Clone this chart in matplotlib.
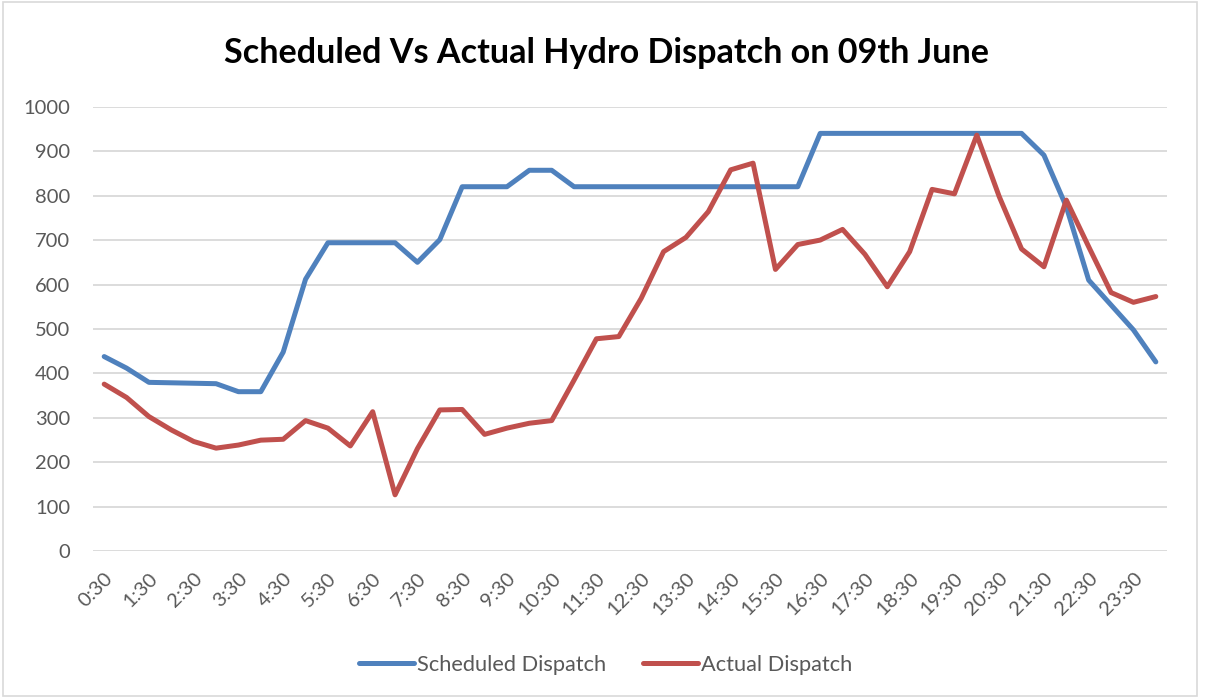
import matplotlib
matplotlib.use("Agg")
import matplotlib.pyplot as plt
from matplotlib.patches import Rectangle

# half-hourly time blocks 0:30 ... 24:00
times = []
for h in range(0, 25):
    for m in ("00", "30"):
        if h == 0 and m == "00":
            continue
        if h == 24 and m == "30":
            continue
        times.append(f"{h}:{m}")

scheduled = [438, 412, 380, 379, 378, 377, 359, 359, 448, 612,
             694, 694, 694, 694, 650, 701, 820, 820, 820, 857,
             857, 820, 820, 820, 820, 820, 820, 820, 820, 820,
             820, 820, 940, 940, 940, 940, 940, 940, 940, 940,
             940, 940, 891, 775, 610, 554, 498, 426]

actual = [376, 346, 303, 273, 247, 232, 239, 250, 252, 294,
          277, 237, 314, 127, 231, 318, 319, 263, 277, 288,
          294, 385, 478, 483, 569, 674, 706, 764, 858, 873,
          634, 690, 700, 724, 668, 595, 674, 814, 804, 936,
          798, 680, 640, 790, 685, 582, 560, 573]

title = "Scheduled Vs Actual Hydro Dispatch on 09th June"
yticks = list(range(0, 1001, 100))

plt.rcParams['font.family'] = ['Lato', 'DejaVu Sans']

fig = plt.figure(figsize=(12.07, 6.97), dpi=100)
ax = fig.add_axes([93/1207, 1-551.3/697, (1167-93)/1207, (551.3-106.7)/697])

x = list(range(len(times)))
ax.plot(x, scheduled, color="#4F81BD", lw=3.6, solid_capstyle="round",
        solid_joinstyle="round", label="Scheduled Dispatch", zorder=3)
ax.plot(x, actual, color="#C0504D", lw=3.6, solid_capstyle="round",
        solid_joinstyle="round", label="Actual Dispatch", zorder=3)

ax.set_xlim(-0.5, len(times) - 0.5)
ax.set_ylim(0, 1000)
ax.set_yticks(yticks)
ax.set_yticklabels([str(v) for v in yticks])
ax.set_xticks(x[::2])
ax.set_xticklabels(times[::2], rotation=45, ha="right", va="top",
                   rotation_mode="anchor")
ax.tick_params(axis="both", length=0, labelsize=14.5, colors="#595959")
ax.tick_params(axis="x", pad=13)
ax.tick_params(axis="y", pad=16.5)
ax.grid(axis="y", color="#D9D9D9", lw=1.3)
ax.set_axisbelow(True)
for s in ax.spines.values():
    s.set_visible(False)

fig.text(0.5025, 1 - 53/697, title, ha="center", va="center",
         fontsize=24.6, fontweight="bold", color="black")

leg = fig.legend(loc="center", bbox_to_anchor=(606/1207, 1 - 665/697), ncol=2,
                 frameon=False, fontsize=15.7, handlelength=2.5,
                 columnspacing=1.7, handletextpad=0.15)
for t in leg.get_texts():
    t.set_color("#595959")

fig.patches.append(Rectangle((3/1207, 1/697), 1194/1207, 694/697,
                             transform=fig.transFigure, fill=False,
                             edgecolor="#D9D9D9", lw=1.2))

fig.savefig("out.png", dpi=100)
